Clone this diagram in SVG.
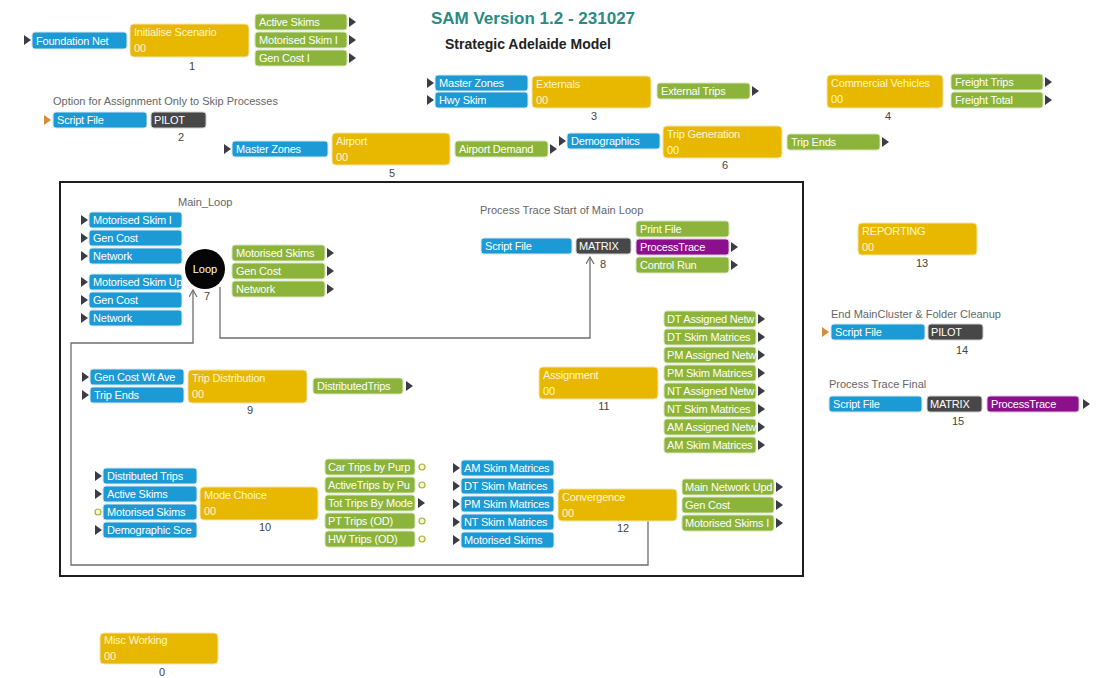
<svg xmlns="http://www.w3.org/2000/svg" xmlns:xlink="http://www.w3.org/1999/xlink" width="1102" height="678" viewBox="0 0 1102 678">
  <style>
    text { font-family: "Liberation Sans", Arial, sans-serif; }
    .b { fill: #1b9ad6; stroke: #d8e6ee; stroke-width: 1; }
    .y { fill: #e8b800; stroke: #f3e3a8; stroke-width: 1; }
    .g { fill: #8cb33a; stroke: #d9e4c2; stroke-width: 1; }
    .d { fill: #474747; stroke: #cfcfcf; stroke-width: 1; }
    .p { fill: #8c0f8c; stroke: #dcc4dc; stroke-width: 1; }
    .t { fill: #ffffff; font-size: 11px; letter-spacing: -0.2px; }
    .ty { fill: #fff6cc; font-size: 11px; letter-spacing: -0.2px; }
    .lab { fill: #666666; font-size: 11px; }
    .num { fill: #444444; font-size: 11px; text-anchor: middle; }
    .wire { fill: none; stroke: #6d6d6d; stroke-width: 1.3; }
    .dot { fill: #f4f4c8; stroke: #a4b33a; stroke-width: 1.2; }
  </style>
  <defs>
    <path id="tri" d="M0,-5 L7,0 L0,5 Z" fill="#3c3c46"/>
    <path id="otri" d="M0,-5 L7,0 L0,5 Z" fill="#d98a3a"/>
    <marker id="arr" markerWidth="10" markerHeight="10" refX="7" refY="4" orient="auto" markerUnits="userSpaceOnUse">
      <path d="M0,0 L7,4 L0,8" fill="none" stroke="#6d6d6d" stroke-width="1.2"/>
    </marker>
  </defs>

  <rect width="1102" height="678" fill="#ffffff"/>

  <!-- header -->
  <g id="title">
    <text x="533" y="24" text-anchor="middle" font-size="17" font-weight="bold" fill="#2b8a84">SAM Version 1.2 - 231027</text>
    <text x="528" y="49" text-anchor="middle" font-size="14" font-weight="bold" fill="#222222">Strategic Adelaide Model</text>
  </g>

  <!-- outer frame of the main loop cluster -->
  <rect id="main-frame" x="60" y="182" width="743" height="394" fill="none" stroke="#1e1e1e" stroke-width="2"/>

  <!-- connectors -->
  <g id="connectors">
    <path class="wire" d="M648,521 V565 H71 V343 H193 V290" marker-end="url(#arr)"/>
    <path class="wire" d="M220,287 V338 H590 V257" marker-end="url(#arr)"/>
  </g>

  <!-- 1 Initialise Scenario -->
  <g id="node1">
    <use href="#tri" x="24" y="40"/>
    <rect class="b" x="32" y="32" width="95" height="17" rx="3"/>
    <text class="t" x="36" y="44.5">Foundation Net</text>
    <rect class="y" x="130" y="24" width="119" height="33" rx="4"/>
    <text class="ty" x="134" y="36">Initialise Scenario</text>
    <text class="ty" x="134" y="52">00</text>
    <text class="num" x="192" y="70">1</text>
    <rect class="g" x="255" y="14" width="92" height="16" rx="3"/>
    <text class="t" x="259" y="26">Active Skims</text>
    <use href="#tri" x="349" y="22"/>
    <rect class="g" x="255" y="32" width="92" height="16" rx="3"/>
    <text class="t" x="259" y="44">Motorised Skim I</text>
    <use href="#tri" x="349" y="40"/>
    <rect class="g" x="255" y="50" width="92" height="16" rx="3"/>
    <text class="t" x="259" y="62">Gen Cost I</text>
    <use href="#tri" x="349" y="58"/>
  </g>

  <!-- 2 Pilot skip option -->
  <g id="node2">
    <text class="lab" x="53" y="105">Option for Assignment Only to Skip Processes</text>
    <use href="#otri" x="44" y="120"/>
    <rect class="b" x="53" y="112" width="94" height="16" rx="3"/>
    <text class="t" x="57" y="124">Script File</text>
    <rect class="d" x="151" y="112" width="55" height="16" rx="3"/>
    <text class="t" x="154" y="124">PILOT</text>
    <text class="num" x="181" y="141">2</text>
  </g>

  <!-- 3 Externals -->
  <g id="node3">
    <use href="#tri" x="427" y="83"/>
    <rect class="b" x="435" y="75" width="93" height="16" rx="3"/>
    <text class="t" x="439" y="87">Master Zones</text>
    <use href="#tri" x="427" y="100"/>
    <rect class="b" x="435" y="92" width="93" height="16" rx="3"/>
    <text class="t" x="439" y="104">Hwy Skim</text>
    <rect class="y" x="532" y="76" width="119" height="32" rx="4"/>
    <text class="ty" x="536" y="88">Externals</text>
    <text class="ty" x="536" y="104">00</text>
    <text class="num" x="594" y="120">3</text>
    <rect class="g" x="657" y="83" width="93" height="16" rx="3"/>
    <text class="t" x="661" y="95">External Trips</text>
    <use href="#tri" x="752" y="91"/>
  </g>

  <!-- 4 Commercial Vehicles -->
  <g id="node4">
    <rect class="y" x="827" y="75" width="116" height="33" rx="4"/>
    <text class="ty" x="831" y="87">Commercial Vehicles</text>
    <text class="ty" x="831" y="103">00</text>
    <text class="num" x="888" y="120">4</text>
    <rect class="g" x="951" y="74" width="92" height="16" rx="3"/>
    <text class="t" x="955" y="86">Freight Trips</text>
    <use href="#tri" x="1045" y="82"/>
    <rect class="g" x="951" y="92" width="92" height="16" rx="3"/>
    <text class="t" x="955" y="104">Freight Total</text>
    <use href="#tri" x="1045" y="100"/>
  </g>

  <!-- 5 Airport -->
  <g id="node5">
    <use href="#tri" x="224" y="149"/>
    <rect class="b" x="232" y="141" width="96" height="16" rx="3"/>
    <text class="t" x="236" y="153">Master Zones</text>
    <rect class="y" x="332" y="133" width="118" height="32" rx="4"/>
    <text class="ty" x="336" y="145">Airport</text>
    <text class="ty" x="336" y="161">00</text>
    <text class="num" x="392" y="177">5</text>
    <rect class="g" x="455" y="141" width="93" height="16" rx="3"/>
    <text class="t" x="459" y="153">Airport Demand</text>
    <use href="#tri" x="550" y="149"/>
  </g>

  <!-- 6 Trip Generation -->
  <g id="node6">
    <use href="#tri" x="559" y="141"/>
    <rect class="b" x="567" y="133" width="93" height="16" rx="3"/>
    <text class="t" x="571" y="145">Demographics</text>
    <rect class="y" x="663" y="126" width="119" height="32" rx="4"/>
    <text class="ty" x="667" y="138">Trip Generation</text>
    <text class="ty" x="667" y="154">00</text>
    <text class="num" x="725" y="169">6</text>
    <rect class="g" x="787" y="134" width="93" height="16" rx="3"/>
    <text class="t" x="791" y="146">Trip Ends</text>
    <use href="#tri" x="882" y="142"/>
  </g>

  <!-- 7 Main loop -->
  <g id="node7">
    <text class="lab" x="178" y="206">Main_Loop</text>
    <use href="#tri" x="81" y="220"/>
    <rect class="b" x="89" y="212" width="93" height="16" rx="3"/>
    <text class="t" x="93" y="224">Motorised Skim I</text>
    <use href="#tri" x="81" y="238"/>
    <rect class="b" x="89" y="230" width="93" height="16" rx="3"/>
    <text class="t" x="93" y="242">Gen Cost</text>
    <use href="#tri" x="81" y="256"/>
    <rect class="b" x="89" y="248" width="93" height="16" rx="3"/>
    <text class="t" x="93" y="260">Network</text>
    <use href="#tri" x="81" y="282"/>
    <rect class="b" x="89" y="274" width="93" height="16" rx="3"/>
    <text class="t" x="93" y="286">Motorised Skim Up</text>
    <use href="#tri" x="81" y="300"/>
    <rect class="b" x="89" y="292" width="93" height="16" rx="3"/>
    <text class="t" x="93" y="304">Gen Cost</text>
    <use href="#tri" x="81" y="318"/>
    <rect class="b" x="89" y="310" width="93" height="16" rx="3"/>
    <text class="t" x="93" y="322">Network</text>
    <circle cx="205" cy="269" r="20" fill="#050505"/>
    <text x="205" y="273" text-anchor="middle" font-size="11" fill="#ffffff">Loop</text>
    <text class="num" x="207" y="300">7</text>
    <rect class="g" x="232" y="245" width="93" height="16" rx="3"/>
    <text class="t" x="236" y="257">Motorised Skims</text>
    <use href="#tri" x="327" y="253"/>
    <rect class="g" x="232" y="263" width="93" height="16" rx="3"/>
    <text class="t" x="236" y="275">Gen Cost</text>
    <use href="#tri" x="327" y="271"/>
    <rect class="g" x="232" y="281" width="93" height="16" rx="3"/>
    <text class="t" x="236" y="293">Network</text>
    <use href="#tri" x="327" y="289"/>
  </g>

  <!-- 8 Process trace start -->
  <g id="node8">
    <text class="lab" x="480" y="214">Process Trace Start of Main Loop</text>
    <rect class="b" x="481" y="238" width="91" height="16" rx="3"/>
    <text class="t" x="485" y="250">Script File</text>
    <rect class="d" x="576" y="238" width="55" height="16" rx="3"/>
    <text class="t" x="579" y="250">MATRIX</text>
    <text class="num" x="603" y="268">8</text>
    <rect class="g" x="636" y="221" width="93" height="16" rx="3"/>
    <text class="t" x="640" y="233">Print File</text>
    <rect class="p" x="636" y="239" width="93" height="16" rx="3"/>
    <text class="t" x="640" y="251">ProcessTrace</text>
    <use href="#tri" x="731" y="247"/>
    <rect class="g" x="636" y="257" width="93" height="16" rx="3"/>
    <text class="t" x="640" y="269">Control Run</text>
    <use href="#tri" x="731" y="265"/>
  </g>

  <!-- 9 Trip Distribution -->
  <g id="node9">
    <use href="#tri" x="82" y="377"/>
    <rect class="b" x="90" y="369" width="94" height="16" rx="3"/>
    <text class="t" x="94" y="381">Gen Cost Wt Ave</text>
    <use href="#tri" x="82" y="395"/>
    <rect class="b" x="90" y="387" width="94" height="16" rx="3"/>
    <text class="t" x="94" y="399">Trip Ends</text>
    <rect class="y" x="188" y="370" width="119" height="33" rx="4"/>
    <text class="ty" x="192" y="382">Trip Distribution</text>
    <text class="ty" x="192" y="398">00</text>
    <text class="num" x="250" y="414">9</text>
    <rect class="g" x="313" y="378" width="90" height="16" rx="3"/>
    <text class="t" x="317" y="390">DistributedTrips</text>
    <use href="#tri" x="406" y="386"/>
  </g>

  <!-- 10 Mode Choice -->
  <g id="node10">
    <use href="#tri" x="95" y="476"/>
    <rect class="b" x="103" y="468" width="94" height="16" rx="3"/>
    <text class="t" x="107" y="480">Distributed Trips</text>
    <use href="#tri" x="95" y="494"/>
    <rect class="b" x="103" y="486" width="94" height="16" rx="3"/>
    <text class="t" x="107" y="498">Active Skims</text>
    <circle class="dot" cx="98" cy="512" r="3"/>
    <rect class="b" x="103" y="504" width="94" height="16" rx="3"/>
    <text class="t" x="107" y="516">Motorised Skims</text>
    <use href="#tri" x="95" y="530"/>
    <rect class="b" x="103" y="522" width="94" height="16" rx="3"/>
    <text class="t" x="107" y="534">Demographic  Sce</text>
    <rect class="y" x="200" y="487" width="118" height="33" rx="4"/>
    <text class="ty" x="204" y="499">Mode Choice</text>
    <text class="ty" x="204" y="515">00</text>
    <text class="num" x="265" y="531">10</text>
    <rect class="g" x="325" y="459" width="90" height="16" rx="3"/>
    <text class="t" x="328" y="471">Car Trips by Purp</text>
    <circle class="dot" cx="422" cy="467" r="3"/>
    <rect class="g" x="325" y="477" width="90" height="16" rx="3"/>
    <text class="t" x="328" y="489">ActiveTrips by Pu</text>
    <circle class="dot" cx="422" cy="485" r="3"/>
    <rect class="g" x="325" y="495" width="90" height="16" rx="3"/>
    <text class="t" x="328" y="507">Tot Trips By Mode</text>
    <use href="#tri" x="418" y="503"/>
    <rect class="g" x="325" y="513" width="90" height="16" rx="3"/>
    <text class="t" x="328" y="525">PT Trips (OD)</text>
    <circle class="dot" cx="422" cy="521" r="3"/>
    <rect class="g" x="325" y="531" width="90" height="16" rx="3"/>
    <text class="t" x="328" y="543">HW Trips (OD)</text>
    <circle class="dot" cx="422" cy="539" r="3"/>
  </g>

  <!-- 11 Assignment -->
  <g id="node11">
    <rect class="y" x="539" y="367" width="119" height="32" rx="4"/>
    <text class="ty" x="543" y="379">Assignment</text>
    <text class="ty" x="543" y="395">00</text>
    <text class="num" x="604" y="410">11</text>
    <rect class="g" x="664" y="311" width="92" height="16" rx="3"/>
    <text class="t" x="667" y="323">DT Assigned Netw</text>
    <use href="#tri" x="758" y="319"/>
    <rect class="g" x="664" y="329" width="92" height="16" rx="3"/>
    <text class="t" x="667" y="341">DT Skim Matrices</text>
    <use href="#tri" x="758" y="337"/>
    <rect class="g" x="664" y="347" width="92" height="16" rx="3"/>
    <text class="t" x="667" y="359">PM Assigned Netw</text>
    <use href="#tri" x="758" y="355"/>
    <rect class="g" x="664" y="365" width="92" height="16" rx="3"/>
    <text class="t" x="667" y="377">PM Skim Matrices</text>
    <use href="#tri" x="758" y="373"/>
    <rect class="g" x="664" y="383" width="92" height="16" rx="3"/>
    <text class="t" x="667" y="395">NT Assigned Netw</text>
    <use href="#tri" x="758" y="391"/>
    <rect class="g" x="664" y="401" width="92" height="16" rx="3"/>
    <text class="t" x="667" y="413">NT Skim Matrices</text>
    <use href="#tri" x="758" y="409"/>
    <rect class="g" x="664" y="419" width="92" height="16" rx="3"/>
    <text class="t" x="667" y="431">AM Assigned Netw</text>
    <use href="#tri" x="758" y="427"/>
    <rect class="g" x="664" y="437" width="92" height="16" rx="3"/>
    <text class="t" x="667" y="449">AM Skim Matrices</text>
    <use href="#tri" x="758" y="445"/>
  </g>

  <!-- 12 Convergence -->
  <g id="node12">
    <use href="#tri" x="453" y="468"/>
    <rect class="b" x="461" y="460" width="93" height="16" rx="3"/>
    <text class="t" x="464" y="472">AM Skim Matrices</text>
    <use href="#tri" x="453" y="486"/>
    <rect class="b" x="461" y="478" width="93" height="16" rx="3"/>
    <text class="t" x="464" y="490">DT Skim Matrices</text>
    <use href="#tri" x="453" y="504"/>
    <rect class="b" x="461" y="496" width="93" height="16" rx="3"/>
    <text class="t" x="464" y="508">PM Skim Matrices</text>
    <use href="#tri" x="453" y="522"/>
    <rect class="b" x="461" y="514" width="93" height="16" rx="3"/>
    <text class="t" x="464" y="526">NT Skim Matrices</text>
    <use href="#tri" x="453" y="540"/>
    <rect class="b" x="461" y="532" width="93" height="16" rx="3"/>
    <text class="t" x="464" y="544">Motorised Skims</text>
    <rect class="y" x="558" y="489" width="119" height="32" rx="4"/>
    <text class="ty" x="562" y="501">Convergence</text>
    <text class="ty" x="562" y="517">00</text>
    <text class="num" x="623" y="532">12</text>
    <rect class="g" x="682" y="479" width="92" height="16" rx="3"/>
    <text class="t" x="685" y="491">Main Network Upd</text>
    <use href="#tri" x="776" y="487"/>
    <rect class="g" x="682" y="497" width="92" height="16" rx="3"/>
    <text class="t" x="685" y="509">Gen Cost</text>
    <use href="#tri" x="776" y="505"/>
    <rect class="g" x="682" y="515" width="92" height="16" rx="3"/>
    <text class="t" x="685" y="527">Motorised Skims I</text>
    <use href="#tri" x="776" y="523"/>
  </g>

  <!-- 13 Reporting -->
  <g id="node13">
    <rect class="y" x="858" y="223" width="119" height="32" rx="4"/>
    <text class="ty" x="862" y="235">REPORTING</text>
    <text class="ty" x="862" y="251">00</text>
    <text class="num" x="922" y="267">13</text>
  </g>

  <!-- 14 Cleanup -->
  <g id="node14">
    <text class="lab" x="831" y="318">End MainCluster &amp; Folder Cleanup</text>
    <use href="#otri" x="822" y="332"/>
    <rect class="b" x="831" y="324" width="94" height="16" rx="3"/>
    <text class="t" x="835" y="336">Script File</text>
    <rect class="d" x="928" y="324" width="55" height="16" rx="3"/>
    <text class="t" x="931" y="336">PILOT</text>
    <text class="num" x="962" y="354">14</text>
  </g>

  <!-- 15 Process trace final -->
  <g id="node15">
    <text class="lab" x="829" y="388">Process Trace Final</text>
    <rect class="b" x="829" y="396" width="93" height="16" rx="3"/>
    <text class="t" x="833" y="408">Script File</text>
    <rect class="d" x="927" y="396" width="55" height="16" rx="3"/>
    <text class="t" x="930" y="408">MATRIX</text>
    <rect class="p" x="987" y="396" width="92" height="16" rx="3"/>
    <text class="t" x="991" y="408">ProcessTrace</text>
    <use href="#tri" x="1083" y="404"/>
    <text class="num" x="958" y="425">15</text>
  </g>

  <!-- 0 Misc Working -->
  <g id="node0">
    <rect class="y" x="100" y="633" width="118" height="31" rx="4"/>
    <text class="ty" x="104" y="644">Misc Working</text>
    <text class="ty" x="104" y="660">00</text>
    <text class="num" x="162" y="676">0</text>
  </g>
</svg>
